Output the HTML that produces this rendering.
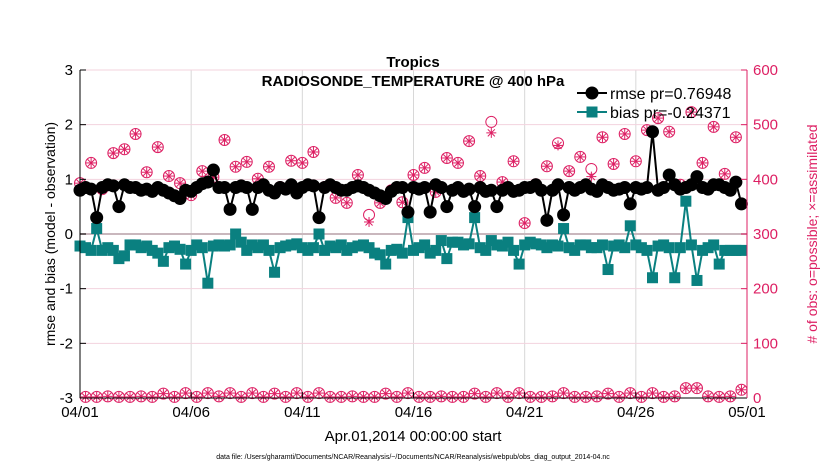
<!DOCTYPE html>
<html><head><meta charset="utf-8"><style>
body{margin:0;background:#fff;}
svg{font-family:"Liberation Sans",sans-serif;display:block}
</style></head><body>
<svg id="chart" width="830" height="470" viewBox="0 0 830 470">
<rect width="830" height="470" fill="#fff"/>
<g id="grid"></g>
<g id="series"></g>
<g id="axes"></g>
<text x="413" y="67" text-anchor="middle" font-size="15" font-weight="bold">Tropics</text>
<text x="413" y="86" text-anchor="middle" font-size="15" font-weight="bold">RADIOSONDE_TEMPERATURE @ 400 hPa</text>
<text x="413" y="441" text-anchor="middle" font-size="15">Apr.01,2014 00:00:00 start</text>
<text transform="translate(55,234) rotate(-90)" text-anchor="middle" font-size="14">rmse and bias (model - observation)</text>
<text transform="translate(817,234) rotate(-90)" text-anchor="middle" font-size="14" fill="#dd1f63"># of obs: o=possible; ×=assimilated</text>
<text x="413" y="459" text-anchor="middle" font-size="7">data file: /Users/gharamti/Documents/NCAR/Reanalysis/~/Documents/NCAR/Reanalysis/webpub/obs_diag_output_2014-04.nc</text>
<g id="legend"></g>
</svg>
<script>
const rmse=[0.8,0.85,0.82,0.3,0.85,0.9,0.88,0.5,0.9,0.85,0.85,0.8,0.82,0.78,0.85,0.8,0.75,0.7,0.65,0.8,0.78,0.85,0.92,0.95,1.17,0.85,0.85,0.45,0.85,0.88,0.85,0.45,0.85,0.9,0.8,0.75,0.85,0.82,0.9,0.75,0.85,0.9,0.88,0.3,0.85,0.9,0.85,0.8,0.8,0.85,0.88,0.85,0.8,0.75,0.7,0.65,0.78,0.85,0.85,0.4,0.85,0.82,0.85,0.4,0.9,0.85,0.5,0.8,0.85,0.78,0.82,0.5,0.85,0.78,0.8,0.5,0.8,0.85,0.78,0.8,0.85,0.85,0.9,0.8,0.25,0.8,0.9,0.35,0.85,0.8,0.85,0.9,0.82,0.78,0.9,0.85,0.8,0.82,0.85,0.55,0.85,0.82,0.85,1.87,0.8,0.85,1.08,0.9,0.82,0.85,0.9,1.05,0.85,0.82,0.9,0.9,0.85,0.8,0.95,0.55];
const bias=[-0.22,-0.25,-0.3,0.1,-0.3,-0.25,-0.3,-0.45,-0.4,-0.2,-0.2,-0.25,-0.22,-0.3,-0.35,-0.5,-0.25,-0.22,-0.28,-0.55,-0.3,-0.2,-0.25,-0.9,-0.22,-0.2,-0.22,-0.2,0.0,-0.15,-0.3,-0.2,-0.25,-0.2,-0.3,-0.7,-0.25,-0.22,-0.2,-0.18,-0.25,-0.3,-0.25,0.0,-0.3,-0.22,-0.25,-0.2,-0.3,-0.25,-0.22,-0.2,-0.25,-0.35,-0.38,-0.55,-0.3,-0.28,-0.35,0.3,-0.3,-0.25,-0.2,-0.35,-0.3,-0.12,-0.45,-0.15,-0.15,-0.2,-0.18,0.3,-0.25,-0.3,-0.12,-0.2,-0.22,-0.15,-0.3,-0.55,-0.2,-0.15,-0.18,-0.2,-0.25,-0.2,-0.22,0.1,-0.25,-0.3,-0.2,-0.2,-0.25,-0.25,-0.2,-0.65,-0.22,-0.2,-0.25,0.15,-0.2,-0.25,-0.3,-0.8,-0.22,-0.2,-0.25,-0.8,-0.25,0.6,-0.2,-0.85,-0.3,-0.25,-0.2,-0.55,-0.3,-0.3,-0.3,-0.3];
const possTop=[393,430,382,448,455,483,413,459,406,393,371,415,404,472,423,432,401,423,386,434,430,450,386,366,357,408,335,357,380,358,408,421,377,439,430,470,406,505,395,433,320,391,424,466,415,441,419,477,428,483,433,490,512,487,390,523,430,496,410,477];
const assimTop=[393,430,382,448,455,483,413,459,406,393,371,415,404,472,423,432,401,423,386,434,430,450,386,366,357,408,322,357,380,358,408,421,377,439,430,470,406,485,395,433,320,391,424,462,415,441,405,477,428,483,433,490,512,487,390,523,430,496,410,477];
const possBot=[2,2,3,2,2,3,2,8,2,9,2,9,3,9,2,9,2,8,2,9,2,9,2,2,3,2,2,8,2,9,2,2,3,2,2,8,2,9,2,9,2,2,3,9,2,2,3,8,2,9,2,9,2,3,18,18,3,2,3,15];
const xTicks=["04/01","04/06","04/11","04/16","04/21","04/26","05/01"];
const yTicks=[-3,-2,-1,0,1,2,3];
const rTicks=[0,100,200,300,400,500,600];

const X0=80,X1=747,Y0=398,Y1=70,PINK="#dd1f63",TEAL="#0a8080";
const xs=d=>X0+d/30*(X1-X0);
const ys=v=>Y0-(v+3)/6*(Y0-Y1);
const yr=v=>Y0-v/600*(Y0-Y1);
const NS="http://www.w3.org/2000/svg";
function mk(tag,parent,attrs){const e=document.createElementNS(NS,tag);for(const k in attrs)e.setAttribute(k,attrs[k]);parent.appendChild(e);return e;}
const grid=document.getElementById('grid'),ser=document.getElementById('series'),ax=document.getElementById('axes'),lg=document.getElementById('legend');

xTicks.forEach((t,i)=>{const x=xs(i*5);
 const g=mk('line',grid,{x1:x,x2:x,y1:Y1,y2:Y0,stroke:"#d8d8d8","stroke-width":1});
 
 
 const tk=mk('line',ax,{x1:x,x2:x,y1:Y0,y2:Y0-6,stroke:"#000"});
 
 
 const tx=mk('text',ax,{x:x,y:Y0+19,"text-anchor":"middle","font-size":15});
 tx.textContent=t;
 
 
});
yTicks.forEach(v=>{const y=ys(v);
 const g=mk('line',grid,{x1:X0,x2:X1,y1:y,y2:y,stroke:v===0?"#c9b7bd":"#f3d3de","stroke-width":v===0?2:1});
 
 
 const tk=mk('line',ax,{x1:X0,x2:X0+6,y1:y,y2:y,stroke:"#000"});
 
 
 const tx=mk('text',ax,{x:X0-7,y:y+5,"text-anchor":"end","font-size":15});
 tx.textContent=v;
 
 
});
rTicks.forEach(v=>{const y=yr(v);
 const tk=mk('line',ax,{x1:X1,x2:X1-6,y1:y,y2:y,stroke:PINK});
 
 
 const tx=mk('text',ax,{x:X1+6,y:y+5,"font-size":15,fill:PINK});
 tx.textContent=v;
 
 
});
let a=mk('line',ax,{x1:X0,x2:X0,y1:Y1,y2:Y0,stroke:"#000"});


a=mk('line',ax,{x1:X0,x2:X1,y1:Y0,y2:Y0,stroke:"#000"});


a=mk('line',ax,{x1:X1,x2:X1,y1:Y1,y2:Y0,stroke:PINK});



function obsMark(x,y,poss,assim,name){
 const g=mk('g',ser,{});
 
 
 mk('circle',g,{cx:x,cy:poss,r:5.5,fill:"none",stroke:PINK,"stroke-width":1});
 const r=5;
 [[0,1],[1,0],[0.707,0.707],[0.707,-0.707]].forEach(([dx,dy])=>mk('line',g,{x1:x-dx*r,y1:assim-dy*r,x2:x+dx*r,y2:assim+dy*r,stroke:PINK,"stroke-width":1}));
}
possTop.forEach((v,i)=>obsMark(xs(i*0.5),0,yr(v),yr(assimTop[i]),'obs-count-main'));
possBot.forEach((v,i)=>obsMark(xs(0.25+i*0.5),0,yr(v),yr(v),'obs-count-offhour'));

const lb=mk('polyline',ser,{points:bias.map((v,i)=>xs(i*0.25)+","+ys(v)).join(" "),fill:"none",stroke:TEAL,"stroke-width":2});


bias.forEach((v,i)=>{const r=mk('rect',ser,{x:xs(i*0.25)-5.5,y:ys(v)-5.5,width:11,height:11,fill:TEAL});
 
 });
const lr=mk('polyline',ser,{points:rmse.map((v,i)=>xs(i*0.25)+","+ys(v)).join(" "),fill:"none",stroke:"#000","stroke-width":2});


rmse.forEach((v,i)=>{const c=mk('circle',ser,{cx:xs(i*0.25),cy:ys(v),r:6.5,fill:"#000"});
 
 });

const e1=mk('g',lg,{});


mk('line',e1,{x1:577,x2:607,y1:93,y2:93,stroke:"#000","stroke-width":2});
mk('circle',e1,{cx:592,cy:93,r:6.5,fill:"#000"});
let t=mk('text',e1,{x:610,y:99,"font-size":16});t.textContent="rmse pr=0.76948";
const e2=mk('g',lg,{});


mk('line',e2,{x1:577,x2:607,y1:112,y2:112,stroke:TEAL,"stroke-width":2});
mk('rect',e2,{x:586.5,y:106.5,width:11,height:11,fill:TEAL});
t=mk('text',e2,{x:610,y:118,"font-size":16});t.textContent="bias pr=-0.24371";
</script>
</body></html>
